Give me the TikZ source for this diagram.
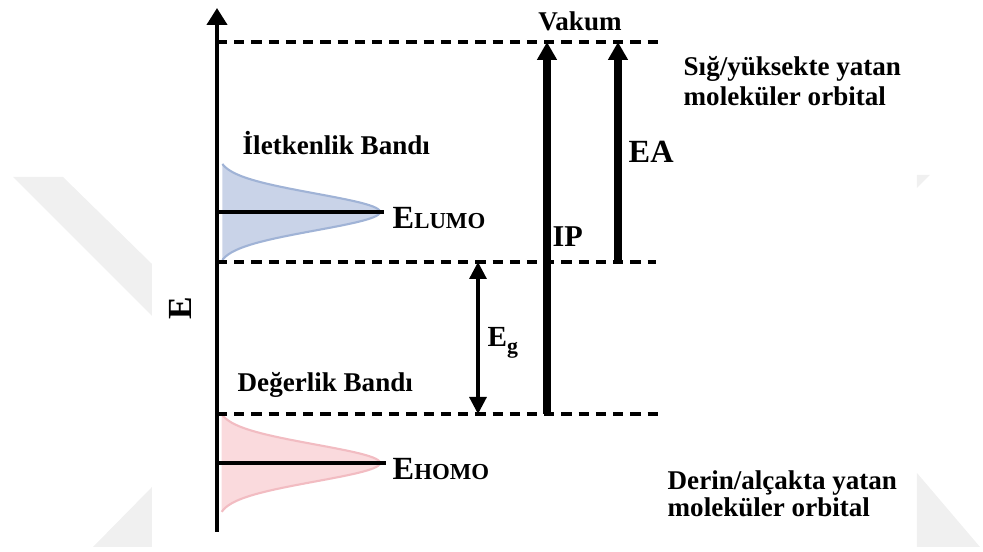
\documentclass[tikz,border=0pt]{standalone}
\usepackage{fontspec}
\setmainfont{Liberation Serif}
\usetikzlibrary{arrows.meta}
\definecolor{lumofill}{RGB}{201,211,232}
\definecolor{lumoedge}{RGB}{160,179,214}
\definecolor{homofill}{RGB}{250,218,221}
\definecolor{homoedge}{RGB}{242,188,194}
\definecolor{wmark}{RGB}{240,240,240}
\tikzset{
	dashlevel/.style={line width=0.9pt, dash pattern=on 2.9pt off 2pt},
	lbl/.style={font=\fontsize{7.7}{9}\selectfont\bfseries, inner sep=0pt},
	biglbl/.style={font=\fontsize{9.2}{10}\selectfont\bfseries, inner sep=0pt},
	energy/.style={line width=2pt, -{Triangle[length=1.8mm,width=1.9mm]}},
	gaparrow/.style={line width=0.9pt, {Triangle[length=1.7mm,width=1.7mm]}-{Triangle[length=1.7mm,width=1.7mm]}},
	orbital/.style={line width=0.6pt},
}
\begin{document}
\begin{tikzpicture}[line join=round]
	\useasboundingbox (0,0) rectangle (9.83,5.52);
	% watermark pieces
	\fill[wmark] (0.13,3.75) -- (0.63,3.75) -- (1.52,2.88) -- (1.52,2.36) -- cycle;
	\fill[wmark] (1.52,0.65) -- (1.52,0.05) -- (0.93,0.05) -- cycle;
	\fill[wmark] (9.17,0.79) -- (9.17,0.05) -- (9.80,0.05) -- cycle;
	\fill[wmark] (9.17,3.77) -- (9.30,3.77) -- (9.17,3.64) -- cycle;
	% band densities
	\fill[lumofill] plot[domain=0.48:-0.48, samples=80, smooth] ({2.17+1.63*exp(-(\x/0.26)*(\x/0.26))},{3.40+\x}) -- cycle;
	\draw[orbital, lumoedge] plot[domain=0.48:-0.48, samples=80, smooth] ({2.17+1.63*exp(-(\x/0.26)*(\x/0.26))},{3.40+\x});
	\fill[homofill] plot[domain=0.49:-0.49, samples=80, smooth] ({2.17+1.63*exp(-(\x/0.26)*(\x/0.26))},{0.89+\x}) -- cycle;
	\draw[orbital, homoedge] plot[domain=0.49:-0.49, samples=80, smooth] ({2.17+1.63*exp(-(\x/0.26)*(\x/0.26))},{0.89+\x});
	% levels
	\coordinate (vac0) at (2.17,5.10); \coordinate (vac1) at (6.60,5.10);
	\coordinate (cb0) at (2.17,2.90); \coordinate (cb1) at (6.56,2.90);
	\coordinate (vb0) at (2.17,1.38); \coordinate (vb1) at (6.60,1.38);
	\draw[dashlevel] (vac0) -- (vac1);
	\draw[dashlevel] (cb0) -- (cb1);
	\draw[dashlevel] (vb0) -- (vb1);
	\coordinate (lumo0) at (2.17,3.40); \coordinate (lumo1) at (3.84,3.40);
	\coordinate (homo0) at (2.17,0.89); \coordinate (homo1) at (3.86,0.89);
	\draw[line width=0.95pt] (lumo0) -- (lumo1);
	\draw[line width=0.95pt] (homo0) -- (homo1);
	% energy axis
	\coordinate (axbot) at (2.17,0.20); \coordinate (axtop) at (2.17,5.44);
	\draw[line width=1.15pt, -{Triangle[length=1.7mm,width=2mm]}] (axbot) -- (axtop);
	\node[lbl, font=\fontsize{9.6}{10}\selectfont\bfseries, rotate=90] (eaxis) at (1.80,2.44) {E};
	% IP, EA and gap arrows
	\coordinate (ip0) at (5.47,1.38); \coordinate (ip1) at (5.47,5.10);
	\coordinate (ea0) at (6.18,2.90); \coordinate (ea1) at (6.18,5.10);
	\coordinate (eg0) at (4.78,2.90); \coordinate (eg1) at (4.78,1.38);
	\draw[energy] (ip0) -- (ip1);
	\draw[energy] (ea0) -- (ea1);
	\draw[gaparrow] (eg0) -- (eg1);
	% labels
	\node[lbl, anchor=base] (vakum) at (5.80,5.21) {Vakum};
	\node[lbl, anchor=base west] (shallow1) at (6.83,4.76) {Sığ/yüksekte yatan};
	\node[lbl, anchor=base west] (shallow2) at (6.83,4.46) {moleküler orbital};
	\node[lbl, anchor=base west] (deep1) at (6.67,0.62) {Derin/alçakta yatan};
	\node[lbl, anchor=base west] (deep2) at (6.67,0.35) {moleküler orbital};
	\node[lbl, anchor=base west] (cband) at (2.42,3.97) {İletkenlik Bandı};
	\node[lbl, anchor=base west] (vband) at (2.37,1.60) {Değerlik Bandı};
	\node[biglbl, anchor=base west] (ea) at (6.28,3.89) {EA};
	\node[biglbl, font=\fontsize{8.6}{9}\selectfont\bfseries, anchor=base west] (ip) at (5.52,3.05) {IP};
	\node[biglbl, anchor=base west] (elumo) at (3.92,3.23) {E{\fontsize{6.5}{7}\selectfont LUMO}};
	\node[biglbl, anchor=base west] (ehomo) at (3.92,0.72) {E{\fontsize{6.5}{7}\selectfont HOMO}};
	\node[biglbl, font=\fontsize{8.3}{9}\selectfont\bfseries, anchor=base west] (eg) at (4.87,2.05) {E\raisebox{-0.5ex}{\fontsize{6.2}{7}\selectfont g}};
\end{tikzpicture}
\end{document}
